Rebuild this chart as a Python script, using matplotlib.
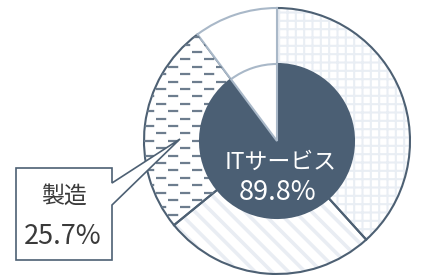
"""Nested pie: IT services share with outer breakdown ring."""

import matplotlib

matplotlib.use("Agg")
import matplotlib.pyplot as plt
from matplotlib.patches import Polygon

plt.rcParams["font.family"] = ["Noto Sans CJK JP", "DejaVu Sans"]
plt.rcParams["hatch.linewidth"] = 1.6

# data
outer_labels = ["その他IT", "通信", "製造", "その他"]
outer_values = [38.3, 25.8, 25.7, 10.2]
inner_labels = ["ITサービス", "その他"]
inner_values = [89.8, 10.2]
callout_label = "製造"
callout_value = 25.7

W, H = 428, 275
DARK = "#4b5f74"
EDGE = "#4d6073"
LIGHT_EDGE = "#a9b8c8"
GRID_C = "#e9eef4"
DIAG_C = "#e9edf3"
DASH_C = "#6d7d8e"
TEXT_C = "#3a3a3a"

CX, CY = 277, H - 141
R_OUT, R_IN = 133, 77


def py(y):
    # pixel row (top origin) to data y
    return H - y


fig = plt.figure(figsize=(W / 100, H / 100), dpi=100)
ax = fig.add_axes([0, 0, 1, 1])

# outer ring: hatch pass
hatches = ["++", "\\\\", None, None]
hatch_cols = [GRID_C, DIAG_C, "white", "white"]
hatch_lw = [1.5, 2.6, 1.0, 1.0]
hw, _ = ax.pie(outer_values, radius=R_OUT, center=(CX, CY), startangle=90,
               counterclock=False, colors=["white"] * 4,
               wedgeprops=dict(linewidth=0))
for w, h, c, lw in zip(hw, hatches, hatch_cols, hatch_lw):
    w.set_edgecolor(c)
    w.set_linewidth(0)
    if h:
        w.set_hatch(h)
        if hasattr(w, "set_hatch_linewidth"):
            w.set_hatch_linewidth(lw)

# dashed texture for the 製造 wedge
dash_wedge = hw[2]
row = 0
y = CY - R_OUT
while y < CY + R_OUT:
    off = 0 if row % 2 == 0 else 5.4
    ax.plot([CX - R_OUT, CX], [y, y], color=DASH_C, lw=1.6,
            linestyle=(off, (4.6, 6.2)), solid_capstyle="butt",
            clip_path=dash_wedge)
    y += 7.4
    row += 1

# outer ring: edges
ew, _ = ax.pie(outer_values, radius=R_OUT, center=(CX, CY), startangle=90,
               counterclock=False, colors=["none"] * 4,
               wedgeprops=dict(linewidth=1.5, edgecolor=EDGE))
ew[3].set_facecolor("white")
ew[3].set_edgecolor(LIGHT_EDGE)
ew[3].set_zorder(ew[3].get_zorder() + 0.1)

# inner pie
iw, _ = ax.pie(inner_values, radius=R_IN, center=(CX, CY), startangle=90,
               counterclock=False, colors=[DARK, "white"],
               wedgeprops=dict(linewidth=1.5, edgecolor=DARK))
iw[1].set_edgecolor(LIGHT_EDGE)
for w in iw:
    w.set_zorder(5)
iw[1].set_zorder(5.1)

ax.text(CX + 4, py(162), inner_labels[0], color="white", fontsize=16.5,
        ha="center", va="center", zorder=6)
ax.text(CX + 1, py(193), f"{inner_values[0]}%", color="white", fontsize=19.5,
        ha="center", va="center", zorder=6)

# callout box
box = Polygon([(16, py(168)), (112, py(168)), (112, py(183)), (180, py(139)),
               (112, py(205)), (112, py(260)), (16, py(260))],
              closed=True, facecolor="white", edgecolor=EDGE, lw=1.2, zorder=7)
ax.add_patch(box)
ax.text(64, py(196), callout_label, color=TEXT_C, fontsize=16.5,
        ha="center", va="center", zorder=8)
ax.text(63, py(237), f"{callout_value}%", color=TEXT_C, fontsize=19.5,
        ha="center", va="center", zorder=8)

ax.set_xlim(0, W)
ax.set_ylim(0, H)
ax.set_aspect("equal")
ax.axis("off")

fig.savefig("out.png", dpi=100, facecolor="white")
